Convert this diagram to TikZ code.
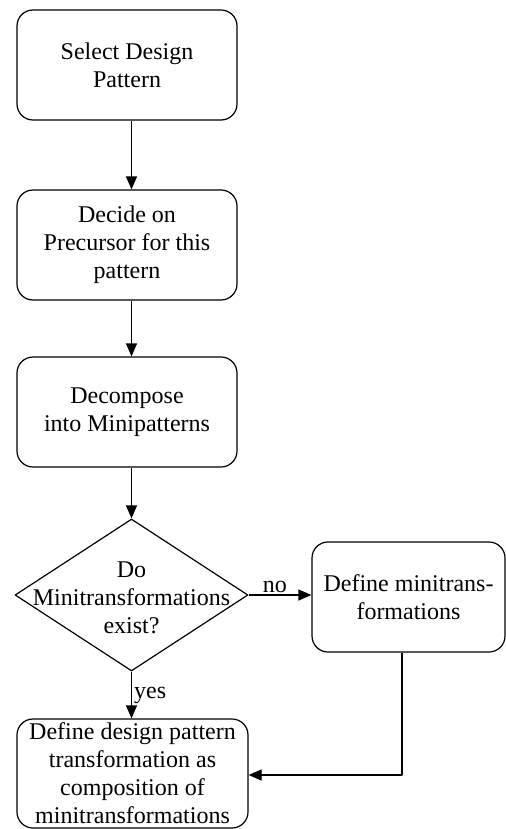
\documentclass[tikz,border=0pt]{standalone}
\usepackage{fontspec}
\setmainfont{Liberation Serif}
\usetikzlibrary{arrows.meta,shapes.geometric}
\begin{document}
\begin{tikzpicture}[>={Triangle[length=6.5pt,width=5.5pt]},line join=round,line width=0.6pt,
	x=0.5pt,y=-0.5pt,font=\fontsize{12}{14}\selectfont,
	stepbox/.style={draw,rounded corners=8pt,align=center,inner sep=0pt},
	decision/.style={draw,diamond,inner sep=0pt}]
	\useasboundingbox (0,0) rectangle (506,829);
	\node[stepbox,minimum width=110pt,minimum height=55pt] (select) at (127,65) {Select Design\\Pattern};
	\node[stepbox,minimum width=110pt,minimum height=55pt] (precursor) at (127,245) {Decide on\\Precursor for this\\pattern};
	\node[stepbox,minimum width=110pt,minimum height=55pt] (decompose) at (127,412) {Decompose\\into Minipatterns};
	\node[decision,minimum width=116.5pt,minimum height=76pt] (exist) at (131.5,595) {};
	\node[align=center,inner sep=0pt] (existtext) at (131.5,598) {Do\\Minitransformations\\exist?};
	\node[stepbox,minimum width=96.5pt,minimum height=55pt] (definemini) at (408.5,597) {Define minitrans-\\formations};
	\node[stepbox,minimum width=115.5pt,minimum height=54.5pt] (definedp) at (132.5,773.5) {Define design pattern\\transformation as\\composition of\\minitransformations};
	\coordinate (turn) at (402,775);
	\draw[->] (select.south -| exist.north) -- (precursor.north -| exist.north);
	\draw[->] (precursor.south -| exist.north) -- (decompose.north -| exist.north);
	\draw[->] (decompose.south -| exist.north) -- (exist.north);
	\draw[->] (exist.east) -- node[pos=0.42,above,inner sep=1pt]{no} (definemini.west |- exist.east);
	\draw[->] (exist.south) -- node[midway,right,inner sep=1pt]{yes} (definedp.north -| exist.south);
	\draw[->] (definemini.south -| turn) |- (definedp.east |- turn);
\end{tikzpicture}
\end{document}
